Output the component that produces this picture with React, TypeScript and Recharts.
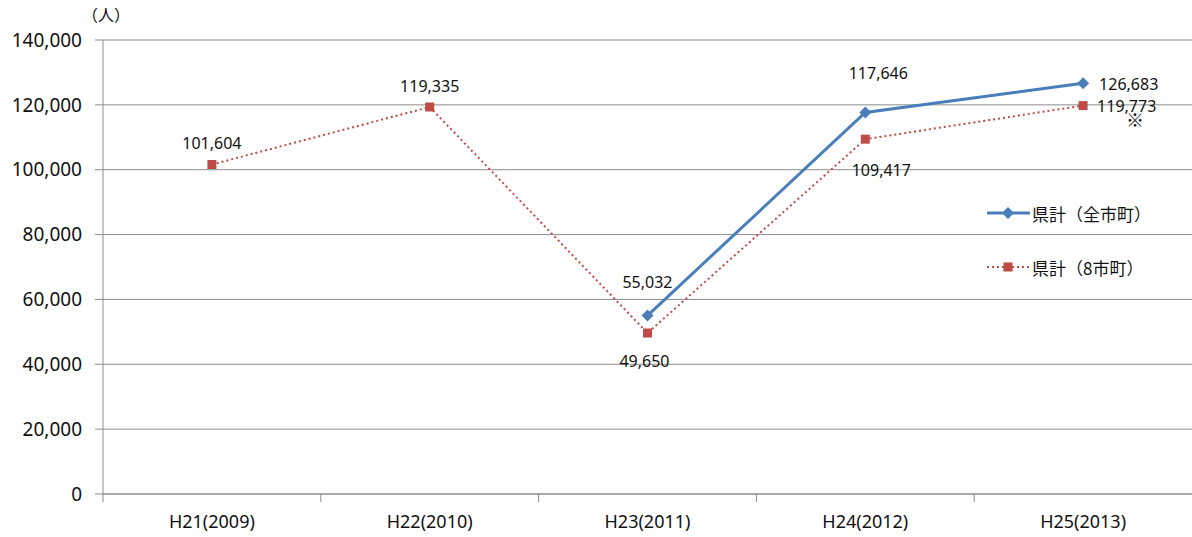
import { LineChart, Line, XAxis, YAxis, CartesianGrid, LabelList } from "recharts";

// 年度
const years = ["H21(2009)", "H22(2010)", "H23(2011)", "H24(2012)", "H25(2013)"];
// 県計（全市町）
const allTowns = [null, null, 55032, 117646, 126683];
// 県計（8市町）
const eightTowns = [101604, 119335, 49650, 109417, 119773];
const yTicks = [0, 20000, 40000, 60000, 80000, 100000, 120000, 140000];

const data = years.map((year, i) => ({
  year,
  all: allTowns[i],
  eight: eightTowns[i],
}));

const BLUE = "#4A7EBB";
const RED = "#BE4B48";
const GRID = "#8C8C8C";
const FONT = "'Noto Sans', 'Noto Sans CJK JP', sans-serif";
const JP = "'Noto Sans CJK JP', sans-serif";

// label offsets relative to each point
const allLabelPos = [null, null, { dx: 0, dy: -34, a: "middle" }, { dx: 13, dy: -39, a: "middle" }, { dx: 16, dy: 1, a: "start" }];
const eightLabelPos = [
  { dx: 0, dy: -22, a: "middle" },
  { dx: 0, dy: -21, a: "middle" },
  { dx: -3, dy: 28, a: "middle" },
  { dx: 16, dy: 31, a: "middle" },
  { dx: 14, dy: 0, a: "start" },
];

const fmt = (v: number) => v.toLocaleString("en-US");

const makeLabel = (pos: any[], note?: boolean) => (props: any) => {
  const { x, y, value, index } = props;
  const p = pos[index];
  if (value == null || !p) return null;
  return (
    <g>
      <text
        x={x + p.dx}
        y={y + p.dy}
        textAnchor={p.a}
        dominantBaseline="central"
        fontSize={16}
        fontFamily={FONT}
        fill="#111"
      >
        {fmt(value)}
      </text>
      {note && index === pos.length - 1 && (
        <text x={x + p.dx + 29} y={y + p.dy + 13} textAnchor="start" dominantBaseline="central" fontSize={18} fontFamily={JP} fill="#111">
          ※
        </text>
      )}
    </g>
  );
};

const Diamond = (props: any) => {
  const { cx, cy } = props;
  if (cx == null || cy == null || props.value == null) return null;
  return <polygon points={`${cx},${cy - 6} ${cx + 6},${cy} ${cx},${cy + 6} ${cx - 6},${cy}`} fill={BLUE} />;
};

const Square = (props: any) => {
  const { cx, cy } = props;
  if (cx == null || cy == null) return null;
  return <rect x={cx - 4.5} y={cy - 4.5} width={9} height={9} fill={RED} />;
};

const XTick = (props: any) => {
  const { x, y, payload } = props;
  const off = payload.offset ?? 0;
  return (
    <g>
      <line x1={x - off} y1={y - 8} x2={x - off} y2={y} stroke={GRID} />
      <text x={x} y={y + 26} textAnchor="middle" fontSize={18} fontFamily={FONT} fill="#111">
        {payload.value}
      </text>
    </g>
  );
};

const LegendBox = () => (
  <div style={{ position: "absolute", left: 986, top: 198, fontFamily: JP, fontSize: 17, color: "#111" }}>
    <div style={{ display: "flex", alignItems: "center", height: 30 }}>
      <svg width={46} height={14}>
        <line x1={1} y1={7} x2={44} y2={7} stroke={BLUE} strokeWidth={3} />
        <polygon points="22,1 28,7 22,13 16,7" fill={BLUE} />
      </svg>
      <span>県計（全市町）</span>
    </div>
    <div style={{ display: "flex", alignItems: "center", height: 30, marginTop: 24 }}>
      <svg width={46} height={14}>
        <line x1={1} y1={7} x2={44} y2={7} stroke={RED} strokeWidth={2} strokeDasharray="2 3" />
        <rect x={17.5} y={2.5} width={9} height={9} fill={RED} />
      </svg>
      <span>県計（8市町）</span>
    </div>
  </div>
);

export default function App() {
  return (
    <div style={{ position: "absolute", left: 0, top: 0, width: 1192, height: 537, background: "#fff" }}>
      <div style={{ position: "absolute", left: 82, top: 2, fontFamily: JP, fontSize: 16, color: "#111" }}>（人）</div>
      <LineChart width={1192} height={537} data={data} margin={{ top: 40, right: 0, bottom: 0, left: 0 }}>
        <CartesianGrid vertical={false} stroke={GRID} strokeWidth={1} />
        <XAxis
          dataKey="year"
          scale="band"
          height={43}
          axisLine={{ stroke: GRID }}
          tickLine={false}
          tick={<XTick />}
          interval={0}
        />
        <YAxis
          width={103}
          domain={[0, 140000]}
          ticks={yTicks}
          tickFormatter={fmt}
          axisLine={{ stroke: GRID }}
          tickLine={{ stroke: GRID }}
          tickSize={8}
          tickMargin={13}
          tick={{ fontSize: 19, fontFamily: FONT, fill: "#111" }}
        />
        <Line
          dataKey="eight"
          stroke={RED}
          strokeWidth={2}
          strokeDasharray="2 3"
          dot={<Square />}
          activeDot={false}
          isAnimationActive={false}
        >
          <LabelList dataKey="eight" content={makeLabel(eightLabelPos, true)} />
        </Line>
        <Line
          dataKey="all"
          stroke={BLUE}
          strokeWidth={3}
          dot={<Diamond />}
          activeDot={false}
          connectNulls={false}
          isAnimationActive={false}
        >
          <LabelList dataKey="all" content={makeLabel(allLabelPos)} />
        </Line>
      </LineChart>
      <LegendBox />
    </div>
  );
}
